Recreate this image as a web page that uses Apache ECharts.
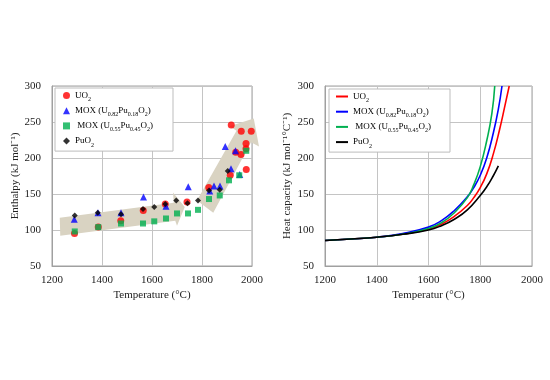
<!DOCTYPE html>
<html><head><meta charset="utf-8">
<script src="https://cdn.jsdelivr.net/npm/echarts@6/dist/echarts.min.js"></script>
<style>html,body{margin:0;padding:0;background:#fff}#c{width:550px;height:380px}</style>
</head><body><div id="c"></div>
<script>
// ---- data ----
const seriesLabels = ['UO2', 'MOX (U0.82Pu0.18O2)', 'MOX (U0.55Pu0.45O2)', 'PuO2'];
const uo2Enthalpy = [[1290,95],[1385,104],[1475,113],[1565,127],[1653,136],[1740,139],[1827,159],[1913,176],[1917,246],[1935,208],[1956,205],[1957,237],[1976,220],[1976,213],[1977,184],[1997,237]];
const mox18Enthalpy = [[1289,115],[1384,124],[1476,124],[1566,146],[1656,133],[1745,160],[1831,154],[1848,161],[1872,161],[1893,216],[1916,185],[1934,210],[1951,177]];
const mox45Enthalpy = [[1291,98],[1385,104],[1476,109],[1564,109],[1609,112],[1656,116],[1700,123],[1744,123],[1784,128],[1828,143],[1871,148],[1908,169],[1949,176],[1977,210]];
const puo2Enthalpy = [[1291,120],[1383,124],[1476,122],[1564,129],[1609,132],[1653,136],[1697,141],[1742,137],[1784,141],[1828,155],[1871,156],[1903,182]];

const uo2Cp = [[1200,85.5],[1300,87.5],[1400,90],[1500,94],[1600,101],[1650,108],[1700,119],[1750,134],[1775,145],[1800,159],[1825,178],[1850,205],[1875,240],[1895,272],[1912,300]];
const mox18Cp = [[1200,85.5],[1300,87.5],[1400,90],[1500,95],[1600,104],[1650,113],[1700,127],[1750,146],[1775,159],[1800,176],[1825,200],[1850,234],[1870,268],[1884,300]];
const mox45Cp = [[1200,85.5],[1300,87.5],[1400,90],[1500,94],[1600,102],[1650,110],[1700,124],[1750,145],[1775,163],[1800,188],[1825,224],[1845,262],[1856,300]];
const puo2Cp = [[1200,85.5],[1300,87.5],[1400,90],[1500,94],[1600,100],[1650,106],[1700,115],[1750,128],[1800,148],[1825,160],[1850,175],[1870,189]];

// trend arrows (annotation outlines, in data units: temperature, enthalpy)
const arrowLow = [[1233,92],[1693,113],[1700,106],[1731,132],[1684,152],[1687,138],[1231,117]];
const arrowHigh = [[1780,141],[1845,124],[1996,222],[2028,216],[2007,255],[1910,244],[1938,238]];

const xTicks = {min:1200, max:2000, interval:200};
const yTicks = {min:50, max:300, interval:50};

// ---- chart ----
const FONT = 'Liberation Serif';
const colors = ['#ff0000', '#0000ff', '#00b050', '#000000'];
const richLegend = {
  n: {fontFamily: FONT, fontSize: 9, color: '#000', lineHeight: 14},
  s: {fontFamily: FONT, fontSize: 6, color: '#000', lineHeight: 14, verticalAlign: 'bottom', padding: [4,0,0,0]}
};
const legendRich = {
  'UO2': '{n|UO}{s|2}',
  'MOX (U0.82Pu0.18O2)': '{n|MOX (U}{s|0.82}{n|Pu}{s|0.18}{n|O}{s|2}{n|)}',
  'MOX (U0.55Pu0.45O2)': '{n| MOX (U}{s|0.55}{n|Pu}{s|0.45}{n|O}{s|2}{n|)}',
  'PuO2': '{n|PuO}{s|2}'
};
const leftNames = seriesLabels.map(s => 'L ' + s);
const rightNames = seriesLabels.map(s => 'R ' + s);
const fmt = name => legendRich[name.slice(2)];

const axisCommon = {
  axisLine: {show: true, lineStyle: {color: '#a0a0a0'}},
  axisTick: {show: false},
  splitLine: {show: true, lineStyle: {color: '#c4c4c4', width: 1}},
  axisLabel: {fontFamily: FONT, fontSize: 11, color: '#222', formatter: v => String(v)},
  nameTextStyle: {fontFamily: FONT, fontSize: 11, color: '#222'},
  nameLocation: 'middle'
};

const symbols = ['circle', 'triangle', 'rect', 'diamond'];
const symSizes = [7, 7, 6, 6];
const enthalpySets = [uo2Enthalpy, mox18Enthalpy, mox45Enthalpy, puo2Enthalpy];
const cpSets = [uo2Cp, mox18Cp, mox45Cp, puo2Cp];

const series = [{
  type: 'custom', xAxisIndex: 0, yAxisIndex: 0, z: 1, silent: true,
  data: [[1500,120],[1900,200]],
  renderItem: (params, api) => {
    const shape = [arrowLow, arrowHigh][params.dataIndex];
    return {type: 'polygon', shape: {points: shape.map(p => api.coord(p))}, style: {fill: '#d9d3c2'}};
  }
}];
enthalpySets.forEach((d, i) => series.push({
  name: leftNames[i], type: 'scatter', xAxisIndex: 0, yAxisIndex: 0, z: 3 + i,
  symbol: symbols[i], symbolSize: symSizes[i], itemStyle: {color: colors[i]}, data: d
}));
cpSets.forEach((d, i) => series.push({
  name: rightNames[i], type: 'line', xAxisIndex: 1, yAxisIndex: 1, z: 3 + i,
  smooth: true, showSymbol: false, lineStyle: {color: colors[i], width: 1.6}, itemStyle: {color: colors[i]}, data: d
}));

const legendBase = {
  orient: 'vertical', backgroundColor: '#fff', borderColor: '#bdbdbd', borderWidth: 1,
  itemGap: 3.7, selectedMode: false, formatter: fmt,
  textStyle: {fontFamily: FONT, fontSize: 9, color: '#000', rich: richLegend}
};

const option = {
  animation: false,
  backgroundColor: '#fff',
  grid: [
    {left: 52, top: 86, width: 200, height: 180, show: true, borderColor: '#a0a0a0', borderWidth: 1, backgroundColor: 'transparent'},
    {left: 325, top: 86, width: 207, height: 180, show: true, borderColor: '#a0a0a0', borderWidth: 1, backgroundColor: 'transparent'}
  ],
  xAxis: [
    Object.assign({}, axisCommon, {type: 'value', gridIndex: 0, min: xTicks.min, max: xTicks.max, interval: xTicks.interval, name: 'Temperature (°C)', nameGap: 24, axisLabel: Object.assign({}, axisCommon.axisLabel, {margin: 9})}),
    Object.assign({}, axisCommon, {type: 'value', gridIndex: 1, min: xTicks.min, max: xTicks.max, interval: xTicks.interval, name: 'Temperatur (°C)', nameGap: 24, axisLabel: Object.assign({}, axisCommon.axisLabel, {margin: 9})})
  ],
  yAxis: [
    Object.assign({}, axisCommon, {type: 'value', gridIndex: 0, min: yTicks.min, max: yTicks.max, interval: yTicks.interval, name: 'Enthalpy (kJ mol⁻¹)', nameGap: 27, axisLabel: Object.assign({}, axisCommon.axisLabel, {margin: 11})}),
    Object.assign({}, axisCommon, {type: 'value', gridIndex: 1, min: yTicks.min, max: yTicks.max, interval: yTicks.interval, name: 'Heat capacity (kJ mol⁻¹°C⁻¹)', nameGap: 32, axisLabel: Object.assign({}, axisCommon.axisLabel, {margin: 11})})
  ],
  legend: [
    Object.assign({}, legendBase, {data: leftNames, left: 55, top: 88, padding: [3, 20, 3, 8], itemWidth: 7, itemHeight: 7}),
    Object.assign({}, legendBase, {data: rightNames, left: 329, top: 89, padding: [3, 19, 3, 7], itemWidth: 12, itemHeight: 2, icon: 'rect'})
  ],
  series: series
};
const chart = echarts.init(document.getElementById('c'), null, {renderer: 'canvas'});
chart.setOption(option);
</script></body></html>
